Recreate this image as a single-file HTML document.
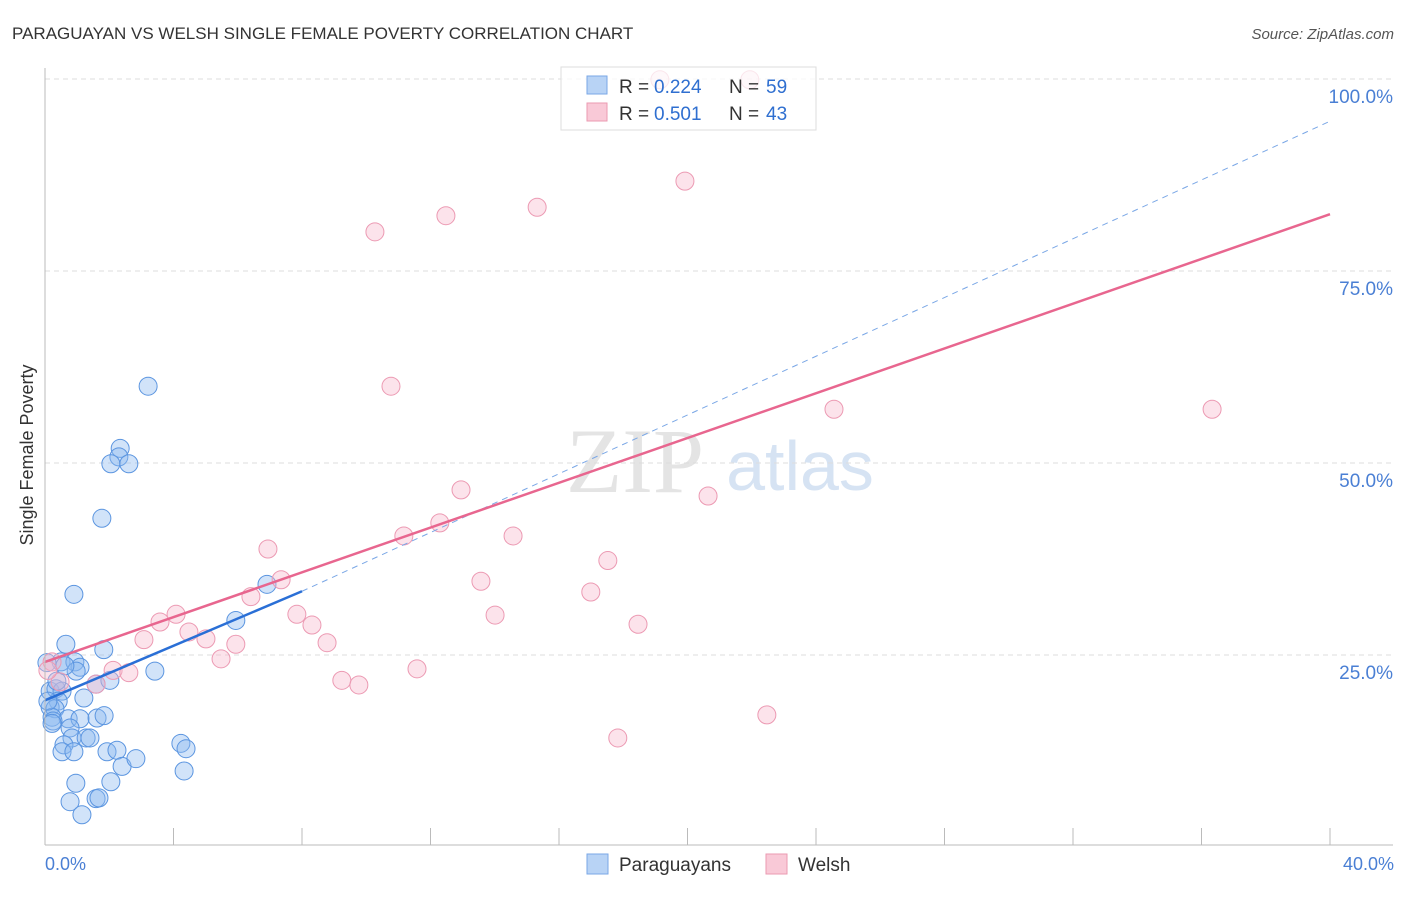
<!DOCTYPE html><html><head><meta charset="utf-8"><style>
body{margin:0;background:#fff;font-family:"Liberation Sans",sans-serif}
</style></head><body>
<svg id="c" width="1406" height="892" xmlns="http://www.w3.org/2000/svg" font-family="Liberation Sans, sans-serif">
<text x="12" y="39" font-size="17" fill="#333">PARAGUAYAN VS WELSH SINGLE FEMALE POVERTY CORRELATION CHART</text>
<text x="1394" y="39" font-size="15" fill="#555" text-anchor="end" font-style="italic">Source: ZipAtlas.com</text>
<text x="33" y="455" font-size="18" fill="#333" text-anchor="middle" transform="rotate(-90 33 455)">Single Female Poverty</text>
<text x="635" y="492" font-size="92" fill="#e4e4e4" text-anchor="middle" font-family="Liberation Serif, serif">ZIP</text>
<text x="800" y="490" font-size="70" fill="#d6e3f3" text-anchor="middle">atlas</text>
<g id="grid"></g><g id="marks"></g>
<line x1="45" y1="68" x2="45" y2="845" stroke="#bbb"/>
<line x1="45" y1="845" x2="1393" y2="845" stroke="#bbb"/>
<text x="45" y="870" font-size="18" fill="#4a7fd4">0.0%</text>
<text x="1394" y="870" font-size="18" fill="#4a7fd4" text-anchor="end">40.0%</text>
<g>
<rect x="561" y="67" width="255" height="63" fill="rgba(255,255,255,0.75)" stroke="#ddd"/>
<rect x="587" y="76" width="20" height="18" fill="#b8d3f5" stroke="#7aa7e6"/>
<rect x="587" y="103" width="20" height="18" fill="#f9c9d7" stroke="#eb9ab2"/>
<text x="619" y="93" font-size="19" fill="#333">R =</text><text x="654" y="93" font-size="19" fill="#2f6fd0">0.224</text>
<text x="729" y="93" font-size="19" fill="#333">N =</text><text x="766" y="93" font-size="19" fill="#2f6fd0">59</text>
<text x="619" y="120" font-size="19" fill="#333">R =</text><text x="654" y="120" font-size="19" fill="#2f6fd0">0.501</text>
<text x="729" y="120" font-size="19" fill="#333">N =</text><text x="766" y="120" font-size="19" fill="#2f6fd0">43</text>
</g>
<g>
<rect x="587" y="854" width="21" height="20" fill="#b8d3f5" stroke="#7aa7e6"/>
<text x="619" y="871" font-size="19" fill="#333">Paraguayans</text>
<rect x="766" y="854" width="21" height="20" fill="#f9c9d7" stroke="#eb9ab2"/>
<text x="798" y="871" font-size="19" fill="#333">Welsh</text>
</g>
</svg>
<script>
const yTicks=[25,50,75,100];
const yTickLabels=["25.0%","50.0%","75.0%","100.0%"];
const blueX=[3.21,2.34,2.30,2.05,2.61,1.77,0.90,0.65,1.83,0.50,0.93,1.09,0.97,0.06,0.16,0.34,0.53,1.59,2.02,1.21,0.41,0.16,0.31,0.22,0.72,1.09,1.62,1.84,0.78,0.84,1.28,1.40,0.59,0.53,0.90,1.93,2.24,2.40,2.83,4.23,4.39,4.33,0.96,2.05,1.59,1.68,0.78,1.15,5.94,6.91,3.42,0.25,0.09,0.37,0.62,0.22];
const blueY=[60.0,51.9,50.8,49.9,49.9,42.8,32.9,26.4,25.7,24.1,24.1,23.4,22.9,24.0,20.3,20.6,20.3,21.2,21.7,19.4,19.0,18.2,18.0,16.9,16.7,16.7,16.8,17.1,15.5,14.2,14.2,14.2,13.3,12.4,12.4,12.4,12.6,10.5,11.5,13.5,12.8,9.9,8.3,8.5,6.3,6.4,5.9,4.2,29.5,34.2,22.9,16.4,19.0,21.6,23.6,16.1];
const pinkX=[10.27,12.48,15.32,19.92,19.14,21.94,10.77,24.56,36.33,12.95,20.64,12.29,11.17,14.57,6.94,7.35,17.52,13.57,16.99,6.41,4.08,3.58,7.84,8.31,14.01,18.46,4.48,5.01,3.08,5.94,8.78,5.48,11.58,9.24,9.77,2.12,2.61,1.59,22.47,17.83,0.22,0.47,0.09];
const pinkY=[80.1,82.2,83.3,86.7,99.9,99.9,60.0,57.0,57.0,46.5,45.7,42.2,40.5,40.5,38.8,34.8,37.3,34.6,33.2,32.6,30.3,29.3,30.3,28.9,30.2,29.0,28.0,27.1,27.0,26.4,26.6,24.5,23.2,21.7,21.1,23.0,22.7,21.2,17.2,14.2,24.1,21.5,23.0];
const pinkLine=[[0,24.1],[40,82.4]];
const blueLine=[[0,19.1],[8.0,33.3]];
const blueDash=[[8.0,33.3],[40,94.5]];
const NS='http://www.w3.org/2000/svg';
const xs=v=>45+v/40*1285, ys=v=>847-v/100*768;
const grid=document.getElementById('grid'), marks=document.getElementById('marks');
function mk(tag,at,parent){const e=document.createElementNS(NS,tag);for(const k in at)e.setAttribute(k,at[k]);parent.appendChild(e);return e;}
yTicks.forEach((t,i)=>{
 const l=mk('line',{x1:45,x2:1393,y1:ys(t),y2:ys(t),stroke:'#ddd','stroke-dasharray':'5,4'},grid);
 
 
 const tx=mk('text',{x:1393,y:ys(t)+24,'font-size':19,fill:'#4a7fd4','text-anchor':'end'},grid);
 tx.textContent=yTickLabels[i];
 
 
});
for(let i=1;i<=10;i++){const l=mk('line',{x1:xs(i*4),x2:xs(i*4),y1:828,y2:845,stroke:'#bbb'},grid);
 
 }
blueX.forEach((x,i)=>{const c=mk('circle',{cx:xs(x),cy:ys(blueY[i]),r:9,fill:'rgba(140,185,240,0.4)',stroke:'#5b95e0','stroke-width':1},marks);
 
 });
pinkX.forEach((x,i)=>{const c=mk('circle',{cx:xs(x),cy:ys(pinkY[i]),r:9,fill:'rgba(248,185,205,0.4)',stroke:'#ec9ab3','stroke-width':1},marks);
 
 });
function ln(p,st,w,dash,name){const l=mk('line',{x1:xs(p[0][0]),y1:ys(p[0][1]),x2:xs(p[1][0]),y2:ys(p[1][1]),stroke:st,'stroke-width':w},marks);if(dash)l.setAttribute('stroke-dasharray',dash);
 
 }
ln(blueDash,'#7aa7e6',1,'6,5','paraguayan-trend-extension');
ln(pinkLine,'#e8668f',2.5,null,'welsh-trend-line');
ln(blueLine,'#2a6fd6',2.5,null,'paraguayan-trend-line');
</script>
</body></html>
